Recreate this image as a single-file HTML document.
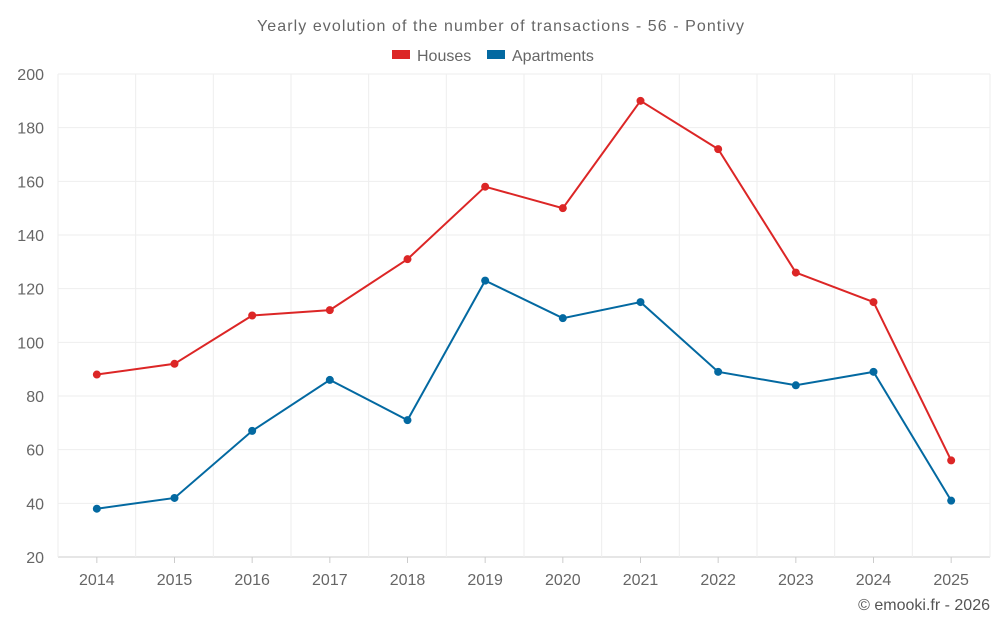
<!DOCTYPE html>
<html><head><meta charset="utf-8"><style>
body{margin:0;background:#fff;font-family:"Liberation Sans",sans-serif}
svg text{font-family:"Liberation Sans",sans-serif}
</style></head><body>
<svg id="c" width="1000" height="625">
<text x="257" y="31" textLength="487" lengthAdjust="spacing" font-size="16" fill="#666">Yearly evolution of the number of transactions - 56 - Pontivy</text>
<g>
<g><rect x="392" y="50" width="18" height="9" fill="#dc2626"/><text x="417" y="61" font-size="16" fill="#666">Houses</text></g>
<g><rect x="487" y="50" width="18" height="9" fill="#0369a1"/><text x="512" y="61" font-size="16" fill="#666">Apartments</text></g>
</g>
<g id="grid"></g>
<g id="axes"></g>
<g id="series"></g>
<text x="990" y="610" text-anchor="end" font-size="16" fill="#555">© emooki.fr - 2026</text>
</svg>
<script>
const categories=["2014","2015","2016","2017","2018","2019","2020","2021","2022","2023","2024","2025"];
const houses=[88,92,110,112,131,158,150,190,172,126,115,56];
const apartments=[38,42,67,86,71,123,109,115,89,84,89,41];
const yTicks=[20,40,60,80,100,120,140,160,180,200];
const L=58,R=990,T=74,B=557,yMin=20,yMax=200;
const ns="http://www.w3.org/2000/svg";
const bw=(R-L)/categories.length;
const x=i=>L+bw*(i+0.5);
const y=v=>B-(v-yMin)/(yMax-yMin)*(B-T);
function mk(t,a,p){const e=document.createElementNS(ns,t);for(const k in a)e.setAttribute(k,a[k]);p.appendChild(e);return e;}
const g=document.getElementById('grid'),ax=document.getElementById('axes'),s=document.getElementById('series');
yTicks.forEach(v=>{
 const l=mk('line',{x1:L,x2:R,y1:y(v),y2:y(v),stroke:v===yMin?'#ccc':'#eee'},g);
 
 
 const t=mk('text',{x:L-14,y:y(v)+6,'text-anchor':'end','font-size':16,fill:'#666'},ax);t.textContent=v;
 
 
});
for(let i=0;i<=categories.length;i++){
 const l=mk('line',{x1:L+bw*i,x2:L+bw*i,y1:T,y2:B,stroke:'#eee'},g);
 
 
}
categories.forEach((c,i)=>{
 const t=mk('text',{x:x(i),y:B+28,'text-anchor':'middle','font-size':16,fill:'#666'},ax);t.textContent=c;
 
 
 const k=mk('line',{x1:x(i),x2:x(i),y1:B,y2:B+6,stroke:'#ccc'},ax);
 
 
});
[[houses,'#dc2626','houses'],[apartments,'#0369a1','apartments']].forEach(([d,col,n])=>{
 const p=mk('polyline',{points:d.map((v,i)=>x(i)+','+y(v)).join(' '),fill:'none',stroke:col,'stroke-width':2},s);
 
 
 d.forEach((v,i)=>{
  const c=mk('circle',{cx:x(i),cy:y(v),r:4,fill:col},s);
  
  
 });
});
</script>
</body></html>
